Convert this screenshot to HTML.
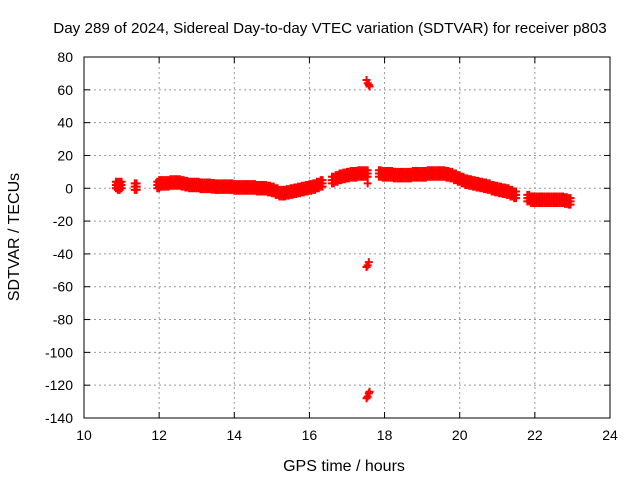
<!DOCTYPE html>
<html><head><meta charset="utf-8"><style>
body{margin:0;background:#fff;}
svg{display:block;font-family:"Liberation Sans",sans-serif;}
</style></head><body>
<svg id="chart" width="640" height="480">
<text x="330" y="33" text-anchor="middle" font-size="15.2">Day 289 of 2024, Sidereal Day-to-day VTEC variation (SDTVAR) for receiver p803</text>
<text x="344" y="471" text-anchor="middle" font-size="16">GPS time / hours</text>
<text transform="translate(19,237) rotate(-90)" text-anchor="middle" font-size="16">SDTVAR / TECUs</text>
<g id="grid"></g><g id="ticks"></g><g id="marks"></g>
<rect x="84" y="57" width="526" height="361" fill="none" stroke="#000"/>
</svg>
<script>
const xTicks=[10,12,14,16,18,20,22,24];
const yTicks=[80,60,40,20,0,-20,-40,-60,-80,-100,-120,-140];
const times=[10.85,10.9,10.95,11.35,11.95,12.0,12.1,12.2,12.3,12.4,12.5,12.6,12.7,12.8,12.9,13.0,13.1,13.2,13.3,13.4,13.5,13.6,13.7,13.8,13.9,14.0,14.1,14.2,14.3,14.4,14.5,14.6,14.7,14.8,14.9,15.0,15.1,15.2,15.3,15.4,15.5,15.6,15.7,15.8,15.9,16.0,16.1,16.2,16.3,16.6,16.7,16.8,16.9,17.0,17.1,17.2,17.3,17.4,17.5,17.85,17.95,18.05,18.15,18.25,18.35,18.45,18.55,18.65,18.75,18.85,18.95,19.05,19.15,19.25,19.35,19.45,19.55,19.65,19.75,19.85,19.95,20.05,20.15,20.25,20.35,20.45,20.55,20.65,20.75,20.85,20.95,21.05,21.15,21.25,21.35,21.45,21.8,21.9,22.0,22.1,22.2,22.3,22.4,22.5,22.6,22.7,22.8,22.9];
const values=[2,1,2,1,2,3,3,3,3.5,3.5,3.5,3,2.5,2,2,2,1.5,1.5,1.5,1.2,1,1,1,1,1,0.5,0.5,0.5,0.5,0.5,0.5,0,0,0,-0.5,-1,-2,-3,-3,-2.5,-2,-1.5,-1,-0.5,0,0.5,1,2,3,5,6,7,7.5,8,8.5,8.5,9,9,9,9,8.5,8.5,8.5,8,8,8,8,8,8.5,8.5,8.5,8.5,9,9,9,9,9,8.5,8,7,6,5,4,3.5,3,2.5,2,1.5,1,0,-0.5,-1,-1.5,-2,-3,-4,-6,-7,-7,-7,-7,-7,-7,-7,-7,-7,-7.5,-8];
const outTimes=[17.52,17.55,17.58,17.6,17.52,17.55,17.58,17.52,17.55,17.58,17.6,17.55];
const outValues=[66,64,63,62,-48,-47,-45,-128,-127,-125,-124,3];
const X=t=>84+(t-10)*526/14, Y=v=>57+(80-v)*361/220;
const ns="http://www.w3.org/2000/svg";
const mk=(tag,a,p)=>{const e=document.createElementNS(ns,tag);for(const k in a)e.setAttribute(k,a[k]);p.appendChild(e);return e;};
const grid=document.getElementById('grid'),ticks=document.getElementById('ticks'),marks=document.getElementById('marks');
xTicks.forEach(t=>{const x=X(t);
 if(t>10&&t<24){const g=mk('line',{x1:x,x2:x,y1:57,y2:418,stroke:'#999','stroke-dasharray':'2,3'},grid);
 
 }
 mk('line',{x1:x,x2:x,y1:418,y2:412,stroke:'#000'},ticks);mk('line',{x1:x,x2:x,y1:57,y2:63,stroke:'#000'},ticks);
 const l=mk('text',{x:x,y:440,'text-anchor':'middle','font-size':14},ticks);l.textContent=t;
 
 });
yTicks.forEach(v=>{const y=Y(v);
 if(v<80&&v>-140){const g=mk('line',{x1:84,x2:610,y1:y,y2:y,stroke:'#999','stroke-dasharray':'2,3'},grid);
 
 }
 mk('line',{x1:84,x2:90,y1:y,y2:y,stroke:'#000'},ticks);mk('line',{x1:604,x2:610,y1:y,y2:y,stroke:'#000'},ticks);
 const l=mk('text',{x:73,y:y+5,'text-anchor':'end','font-size':14},ticks);l.textContent=v;
 
 });
function plus(t,v){const x=X(t),y=Y(v);
 const p=mk('path',{d:`M${x-4},${y}h8M${x},${y-4}v8`,stroke:'#f00','stroke-width':2},marks);
 
 }
times.forEach((t,i)=>{[-2,0,2].forEach(d=>{plus(t,values[i]+d);plus(t+0.05,values[i]+d);});});
outTimes.forEach((t,i)=>plus(t,outValues[i]));
</script>
</body></html>
